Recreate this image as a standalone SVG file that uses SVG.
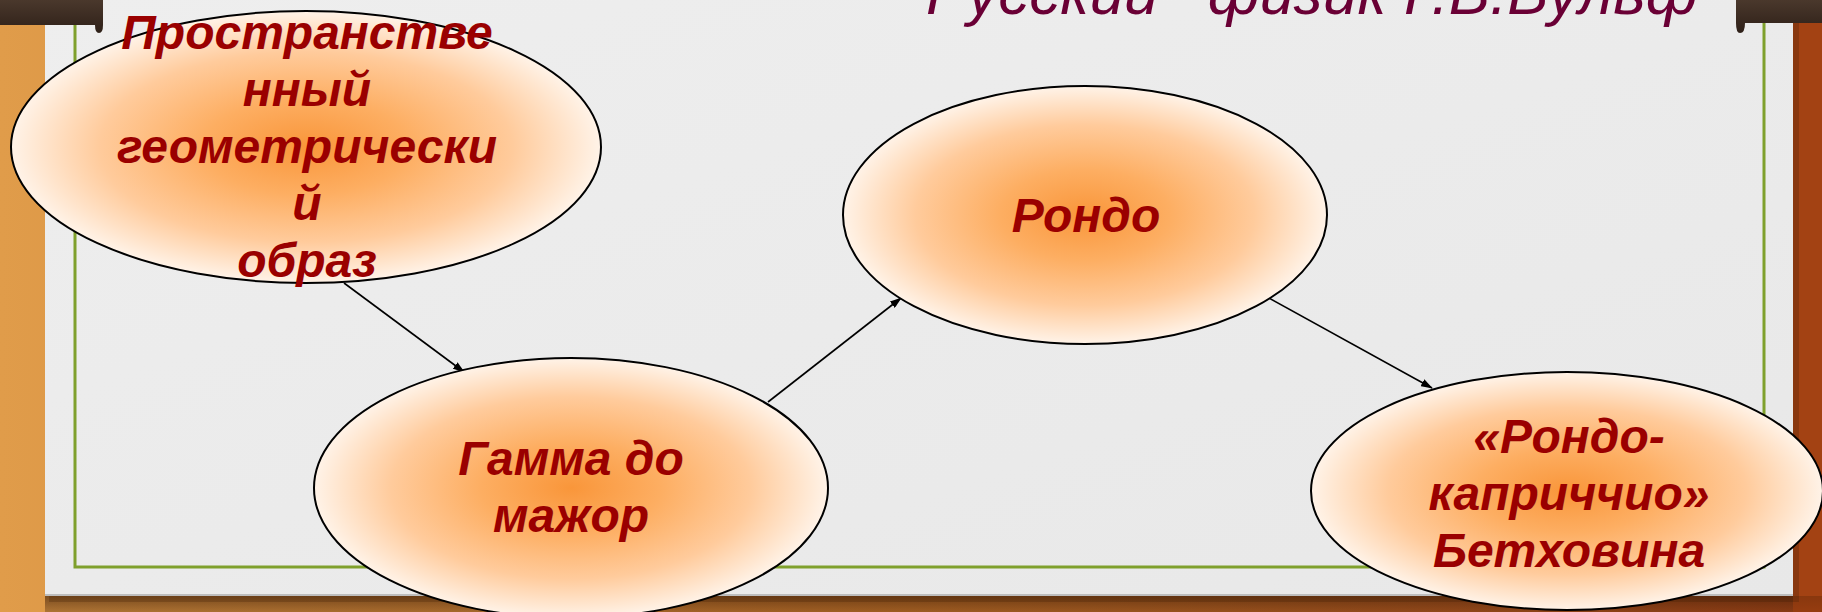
<svg xmlns="http://www.w3.org/2000/svg" width="1822" height="612" viewBox="0 0 1822 612">
  <defs>
    <linearGradient id="frame" x1="0" y1="0" x2="1" y2="0">
      <stop offset="0" stop-color="#E09C4A"/>
      <stop offset="0.5" stop-color="#C8782E"/>
      <stop offset="1" stop-color="#A8461A"/>
    </linearGradient>
    <linearGradient id="bottomShade" x1="0" y1="0" x2="0" y2="1">
      <stop offset="0" stop-color="#3A1A05" stop-opacity="0.6"/>
      <stop offset="1" stop-color="#3A1A05" stop-opacity="0.3"/>
    </linearGradient>
    <linearGradient id="paper" x1="0" y1="0" x2="1" y2="1">
      <stop offset="0" stop-color="#EEEEEE"/>
      <stop offset="1" stop-color="#E8E8E8"/>
    </linearGradient>
    <linearGradient id="wood" x1="0" y1="0" x2="0" y2="1">
      <stop offset="0" stop-color="#4A382C"/>
      <stop offset="1" stop-color="#2E2018"/>
    </linearGradient>
    <radialGradient id="fill" cx="0.5" cy="0.5" r="0.5">
      <stop offset="0" stop-color="#F9963A"/>
      <stop offset="0.35" stop-color="#FDAE62"/>
      <stop offset="0.7" stop-color="#FFCB9C"/>
      <stop offset="1" stop-color="#FFF3E8"/>
    </radialGradient>
    <marker id="arrow" markerUnits="userSpaceOnUse" markerWidth="12" markerHeight="8" refX="11" refY="4" orient="auto">
      <path d="M0,0 L12,4 L0,8 z" fill="#000"/>
    </marker>
    <style>
      .node ellipse { fill: url(#fill); stroke: #000; stroke-width: 2; }
      .label { font-family: "Liberation Sans", Arial, sans-serif; font-weight: bold; font-style: italic; font-size: 48px; fill: #9A0000; text-anchor: middle; }
      .title { font-family: "Liberation Sans", Arial, sans-serif; font-style: italic; font-size: 62px; fill: #6A0035; }
      .conn line { stroke: #000; stroke-width: 1.6; marker-end: url(#arrow); }
    </style>
  </defs>

  <!-- background frame -->
  <rect x="0" y="0" width="1822" height="612" fill="url(#frame)"/>
  <rect x="45" y="596" width="1777" height="16" fill="url(#bottomShade)"/>
  <rect x="1793" y="0" width="29" height="612" fill="#A0400F" opacity="0.6"/>
  <!-- paper with shadow -->
  <rect x="49" y="4" width="1750" height="598" fill="#3A1A05" opacity="0.25"/>
  <rect x="45" y="0" width="1748" height="596" fill="url(#paper)"/>
  <line x1="45" y1="595" x2="1793" y2="595" stroke="#BDBDBD" stroke-width="2"/>
  <!-- green inner border -->
  <rect x="75" y="-10" width="1689" height="577" fill="none" stroke="#7FA02C" stroke-width="3"/>
  <!-- wooden bars -->
  <path d="M0,0 H103 V25 Q103,33 99,33 Q95,33 95,25 H0 Z" fill="url(#wood)"/>
  <path d="M1736,0 H1822 V23 H1745 Q1745,33 1740,33 Q1736,33 1736,23 Z" fill="url(#wood)"/>

  <!-- title -->
  <text class="title" x="926" y="14">Русский <tspan dx="32">физик Г.В.Вульф</tspan></text>

  <!-- connectors -->
  <g id="connectors" class="conn">
    <line x1="344" y1="283" x2="464" y2="372"/>
    <line x1="768" y1="402" x2="901" y2="298"/>
    <line x1="1269" y1="298" x2="1432" y2="388"/>
  </g>

  <!-- nodes -->
  <g id="node-obraz" class="node">
    <ellipse cx="306" cy="147" rx="295" ry="136"/>
    <text class="label" x="307" y="49">Пространстве</text>
    <text class="label" x="307" y="106">нный</text>
    <text class="label" x="307" y="163">геометрически</text>
    <text class="label" x="307" y="220">й</text>
    <text class="label" x="307" y="277">образ</text>
  </g>
  <g id="node-gamma" class="node">
    <ellipse cx="571" cy="488" rx="257" ry="130"/>
    <text class="label" x="571" y="475">Гамма до</text>
    <text class="label" x="571" y="532">мажор</text>
  </g>
  <g id="node-rondo" class="node">
    <ellipse cx="1085" cy="215" rx="242" ry="129"/>
    <text class="label" x="1086" y="232">Рондо</text>
  </g>
  <g id="node-capriccio" class="node">
    <ellipse cx="1567" cy="491" rx="256" ry="119"/>
    <text class="label" x="1569" y="453">«Рондо-</text>
    <text class="label" x="1569" y="510">каприччио»</text>
    <text class="label" x="1569" y="567">Бетховина</text>
  </g>
</svg>
